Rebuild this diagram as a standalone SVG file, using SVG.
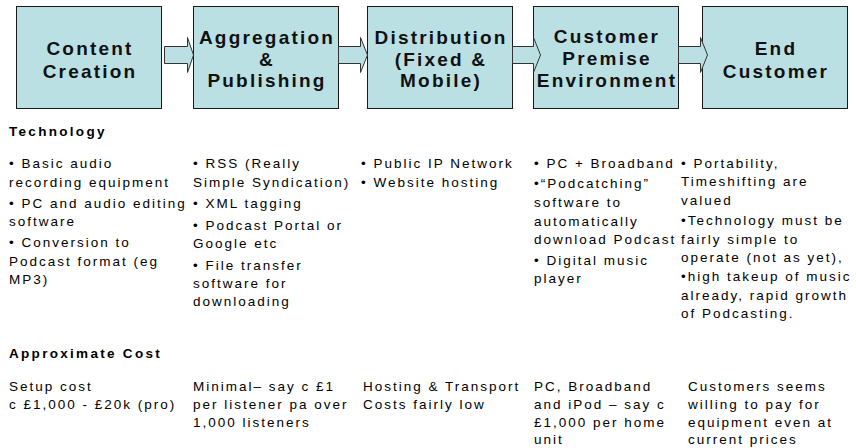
<svg xmlns="http://www.w3.org/2000/svg" width="856" height="448" viewBox="0 0 856 448">
<style>
.box{fill:#BBE0E3;stroke:#1a1a1a;stroke-width:1}
.arr{fill:#BBE0E3;stroke:#333;stroke-width:1;stroke-linejoin:miter}
.t{font-family:"Liberation Sans",Arial,sans-serif;font-weight:bold;font-size:19px;letter-spacing:2.2px;fill:#111;text-anchor:middle}
.h{font-family:"Liberation Sans",Arial,sans-serif;font-weight:bold;font-size:13.5px;letter-spacing:2.3px;fill:#000}
.b{font-family:"Liberation Sans",Arial,sans-serif;font-size:13.5px;letter-spacing:2px;fill:#000}
</style>
<rect width="856" height="448" fill="#fff"/>
<g id="node-content-creation">
<rect class="box" x="16.5" y="6.5" width="145" height="102"/>
<text class="t" x="90" y="55">Content</text>
<text class="t" x="90" y="78">Creation</text>
</g>
<g id="node-aggregation">
<rect class="box" x="193.5" y="6.5" width="145" height="102"/>
<text class="t" x="267" y="44">Aggregation</text>
<text class="t" x="267" y="65.5">&amp;</text>
<text class="t" x="267" y="87">Publishing</text>
</g>
<g id="node-distribution">
<rect class="box" x="367.5" y="6.5" width="145" height="102"/>
<text class="t" x="441" y="44">Distribution</text>
<text class="t" x="441" y="65.5">(Fixed &amp;</text>
<text class="t" x="441" y="87">Mobile)</text>
</g>
<g id="node-customer-premise">
<rect class="box" x="533.5" y="6.5" width="145" height="102"/>
<text class="t" x="607" y="43">Customer</text>
<text class="t" x="607" y="65">Premise</text>
<text class="t" x="607" y="87">Environment</text>
</g>
<g id="node-end-customer">
<rect class="box" x="702.5" y="6.5" width="145" height="102"/>
<text class="t" x="776" y="55">End</text>
<text class="t" x="776" y="78">Customer</text>
</g>
<g id="connectors">
<polygon class="arr" points="164.5,46.5 187.5,46.5 187.5,37.5 193.5,55 187.5,72.5 187.5,63.5 164.5,63.5"/>
<polygon class="arr" points="338.5,46.5 360.5,46.5 360.5,37.5 367.5,55 360.5,72.5 360.5,63.5 338.5,63.5"/>
<polygon class="arr" points="512.5,46.5 533.5,46.5 533.5,37.5 540.5,55 533.5,72.5 533.5,63.5 512.5,63.5"/>
<polygon class="arr" points="678.5,46.5 700.5,46.5 700.5,37.5 707.5,55 700.5,72.5 700.5,63.5 678.5,63.5"/>
</g>
<g id="technology">
<text class="h" x="9" y="136">Technology</text>
<g id="tech-col1">
<text class="b" x="9" y="168">• Basic audio</text>
<text class="b" x="9" y="186.5">recording equipment</text>
<text class="b" x="9" y="208">• PC and audio editing</text>
<text class="b" x="9" y="226">software</text>
<text class="b" x="9" y="247">• Conversion to</text>
<text class="b" x="9" y="265.5">Podcast format (eg</text>
<text class="b" x="9" y="284">MP3)</text>
</g>
<g id="tech-col2">
<text class="b" x="193" y="168">• RSS (Really</text>
<text class="b" x="193" y="186.5">Simple Syndication)</text>
<text class="b" x="193" y="208">• XML tagging</text>
<text class="b" x="193" y="229.5">• Podcast Portal or</text>
<text class="b" x="193" y="248">Google etc</text>
<text class="b" x="193" y="269.5">• File transfer</text>
<text class="b" x="193" y="288">software for</text>
<text class="b" x="193" y="306">downloading</text>
</g>
<g id="tech-col3">
<text class="b" x="361" y="168">• Public IP Network</text>
<text class="b" x="361" y="187">• Website hosting</text>
</g>
<g id="tech-col4">
<text class="b" x="534" y="168">• PC + Broadband</text>
<text class="b" x="534" y="188">•“Podcatching”</text>
<text class="b" x="534" y="207">software to</text>
<text class="b" x="534" y="226">automatically</text>
<text class="b" x="534" y="244">download Podcast</text>
<text class="b" x="534" y="265">• Digital music</text>
<text class="b" x="534" y="283">player</text>
</g>
<g id="tech-col5">
<text class="b" x="681" y="168">• Portability,</text>
<text class="b" x="681" y="186">Timeshifting are</text>
<text class="b" x="681" y="204.5">valued</text>
<text class="b" x="681" y="225">•Technology must be</text>
<text class="b" x="681" y="243.5">fairly simple to</text>
<text class="b" x="681" y="262">operate (not as yet),</text>
<text class="b" x="681" y="281">•high takeup of music</text>
<text class="b" x="681" y="299.5">already, rapid growth</text>
<text class="b" x="681" y="317.5">of Podcasting.</text>
</g>
</g>
<g id="cost">
<text class="h" x="9" y="358">Approximate Cost</text>
<g id="cost-col1">
<text class="b" x="9" y="391">Setup cost</text>
<text class="b" x="9" y="409">c £1,000 - £20k (pro)</text>
</g>
<g id="cost-col2">
<text class="b" x="193" y="391">Minimal– say c £1</text>
<text class="b" x="193" y="409">per listener pa over</text>
<text class="b" x="193" y="427">1,000 listeners</text>
</g>
<g id="cost-col3">
<text class="b" x="363" y="391">Hosting &amp; Transport</text>
<text class="b" x="363" y="409">Costs fairly low</text>
</g>
<g id="cost-col4">
<text class="b" x="534" y="391">PC, Broadband</text>
<text class="b" x="534" y="409">and iPod – say c</text>
<text class="b" x="534" y="427">£1,000 per home</text>
<text class="b" x="534" y="444">unit</text>
</g>
<g id="cost-col5">
<text class="b" x="688" y="391">Customers seems</text>
<text class="b" x="688" y="409">willing to pay for</text>
<text class="b" x="688" y="427">equipment even at</text>
<text class="b" x="688" y="444">current prices</text>
</g>
</g>
</svg>
